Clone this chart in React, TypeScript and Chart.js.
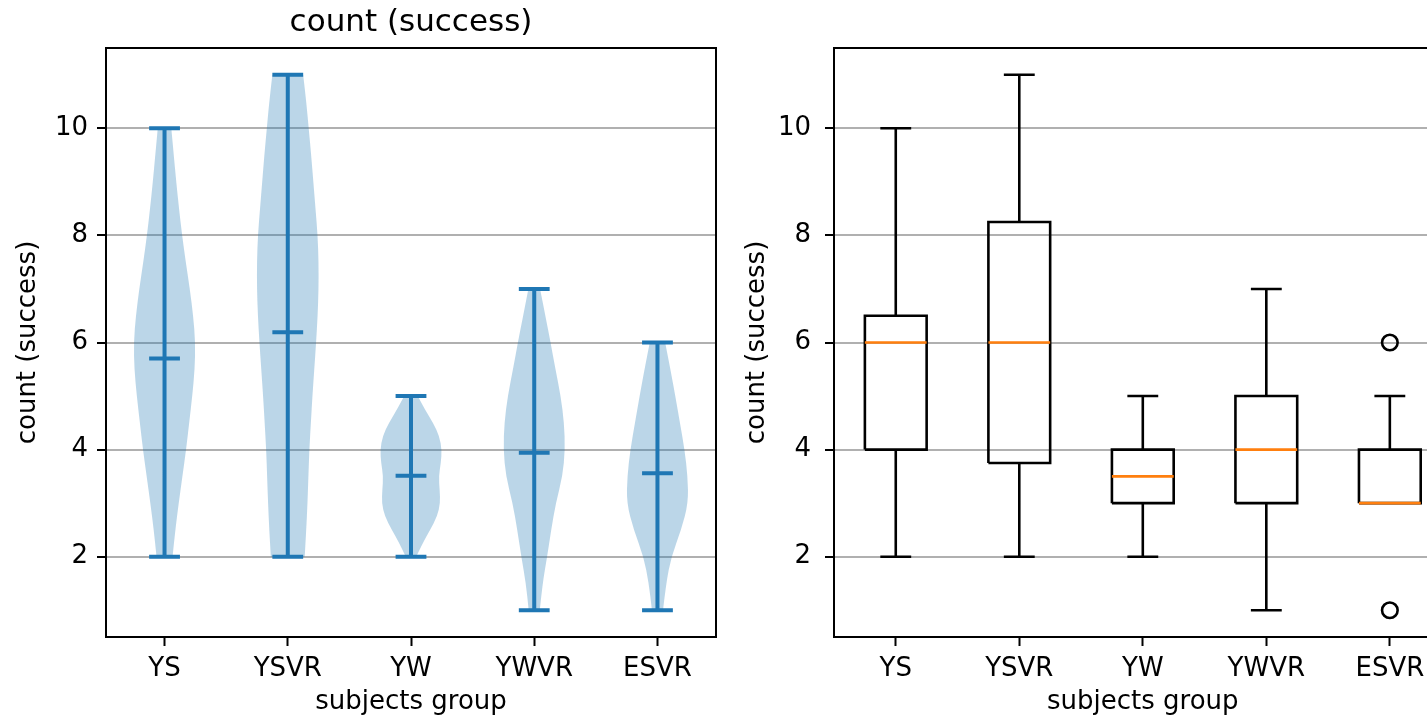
import React, { useEffect, useRef } from 'react';
import { Chart, registerables } from 'chart.js';

Chart.register(...registerables);

// ---------------- data ----------------
const CATEGORIES = ['YS', 'YSVR', 'YW', 'YWVR', 'ESVR'];
const POSITIONS = [1, 2, 3, 4, 5];
const Y_TICKS = [2, 4, 6, 8, 10];
const Y_MIN = 0.5;
const Y_MAX = 11.5;

// violin plot (left): extrema and means
const VIOLIN_MIN = [2, 2, 2, 1, 1];
const VIOLIN_MAX = [10, 11, 5, 7, 6];
const VIOLIN_MEAN = [5.7, 6.19, 3.51, 3.94, 3.56];

// violin density profiles (relative width at each level)
const YS_LEVELS = [2, 2.5, 3, 3.5, 4, 4.5, 5, 5.5, 6, 6.5, 7, 7.5, 8, 8.5, 9, 9.5, 10];
const YS_DENSITY = [0.26, 0.35, 0.46, 0.58, 0.7, 0.8, 0.9, 0.98, 1.0, 0.93, 0.82, 0.69, 0.57, 0.47, 0.38, 0.3, 0.22];
const YSVR_LEVELS = [2, 2.5, 3, 3.5, 4, 4.5, 5, 5.5, 6, 6.5, 7, 7.5, 8, 8.5, 9, 9.5, 10, 10.5, 11];
const YSVR_DENSITY = [0.55, 0.6, 0.64, 0.67, 0.7, 0.75, 0.8, 0.86, 0.92, 0.97, 1.0, 1.0, 0.97, 0.9, 0.83, 0.76, 0.68, 0.6, 0.5];
const YW_LEVELS = [2, 2.25, 2.5, 2.75, 3, 3.25, 3.5, 3.75, 4, 4.25, 4.5, 4.75, 5];
const YW_DENSITY = [0.17, 0.38, 0.62, 0.85, 0.95, 0.93, 0.9, 0.97, 1.0, 0.92, 0.72, 0.45, 0.22];
const YWVR_LEVELS = [1, 1.5, 2, 2.5, 3, 3.5, 4, 4.5, 5, 5.5, 6, 6.5, 7];
const YWVR_DENSITY = [0.18, 0.27, 0.42, 0.55, 0.7, 0.92, 1.0, 0.97, 0.86, 0.69, 0.53, 0.36, 0.19];
const ESVR_LEVELS = [1, 1.5, 2, 2.5, 3, 3.5, 4, 4.5, 5, 5.5, 6];
const ESVR_DENSITY = [0.18, 0.28, 0.45, 0.77, 1.0, 0.98, 0.88, 0.73, 0.58, 0.42, 0.25];

// box plot (right)
const BOX_WHISLO = [2, 2, 2, 1, 3];
const BOX_Q1 = [4, 3.75, 3, 3, 3];
const BOX_MEDIAN = [6, 6, 3.5, 4, 3];
const BOX_Q3 = [6.5, 8.25, 4, 5, 4];
const BOX_WHISHI = [10, 11, 5, 7, 5];
const BOX_FLIERS = [[], [], [], [], [6, 1]];

// ---------------- style ----------------
const FONT = 'DejaVu Sans';
const BLUE = '#1f77b4';
const VIOLIN_FILL = 'rgba(31,119,180,0.3)';
const ORANGE = '#ff7f0e';
const VIOLIN_HALF = 0.25;
const VIOLIN_CAP = 0.125;
const BOX_HALF = 0.25;
const WHISKER_CAP = 0.125;

Chart.defaults.font.family = FONT;
Chart.defaults.color = '#000';

const PROFILES = [
  { levels: YS_LEVELS, density: YS_DENSITY },
  { levels: YSVR_LEVELS, density: YSVR_DENSITY },
  { levels: YW_LEVELS, density: YW_DENSITY },
  { levels: YWVR_LEVELS, density: YWVR_DENSITY },
  { levels: ESVR_LEVELS, density: ESVR_DENSITY },
];

function smoothPath(ctx: CanvasRenderingContext2D, pts: number[][], move: boolean) {
  if (move) ctx.moveTo(pts[0][0], pts[0][1]);
  else ctx.lineTo(pts[0][0], pts[0][1]);
  for (let k = 1; k < pts.length - 1; k++) {
    const mx = (pts[k][0] + pts[k + 1][0]) / 2;
    const my = (pts[k][1] + pts[k + 1][1]) / 2;
    ctx.quadraticCurveTo(pts[k][0], pts[k][1], mx, my);
  }
  const last = pts[pts.length - 1];
  ctx.lineTo(last[0], last[1]);
}

const violinPlugin = {
  id: 'violinBodies',
  beforeDatasetsDraw(chart: any) {
    const { ctx } = chart;
    const xs = chart.scales.x;
    const ys = chart.scales.y;
    ctx.save();
    ctx.fillStyle = VIOLIN_FILL;
    PROFILES.forEach((prof, i) => {
      const pos = POSITIONS[i];
      const right = prof.levels.map((v, k) => [
        xs.getPixelForValue(pos + prof.density[k] * VIOLIN_HALF),
        ys.getPixelForValue(v),
      ]);
      const left = prof.levels
        .map((v, k) => [xs.getPixelForValue(pos - prof.density[k] * VIOLIN_HALF), ys.getPixelForValue(v)])
        .reverse();
      ctx.beginPath();
      smoothPath(ctx, right, true);
      smoothPath(ctx, left, false);
      ctx.closePath();
      ctx.fill();
    });
    ctx.restore();
  },
};

const framePlugin = {
  id: 'frame',
  afterDatasetsDraw(chart: any) {
    const { ctx, chartArea: a } = chart;
    ctx.save();
    ctx.strokeStyle = '#000';
    ctx.lineWidth = 2;
    ctx.strokeRect(a.left, a.top, a.right - a.left, a.bottom - a.top);
    ctx.restore();
  },
};

function violinLinePoints() {
  const pts: any[] = [];
  POSITIONS.forEach((p, i) => {
    pts.push({ x: p, y: VIOLIN_MIN[i] }, { x: p, y: VIOLIN_MAX[i] }, { x: p, y: null });
    [VIOLIN_MIN[i], VIOLIN_MAX[i], VIOLIN_MEAN[i]].forEach((v) => {
      pts.push({ x: p - VIOLIN_CAP, y: v }, { x: p + VIOLIN_CAP, y: v }, { x: p, y: null });
    });
  });
  return pts;
}

function boxLinePoints() {
  const pts: any[] = [];
  POSITIONS.forEach((p, i) => {
    const q1 = BOX_Q1[i];
    const q3 = BOX_Q3[i];
    pts.push(
      { x: p - BOX_HALF, y: q1 }, { x: p + BOX_HALF, y: q1 }, { x: p + BOX_HALF, y: q3 },
      { x: p - BOX_HALF, y: q3 }, { x: p - BOX_HALF, y: q1 }, { x: p, y: null },
      { x: p, y: q1 }, { x: p, y: BOX_WHISLO[i] }, { x: p, y: null },
      { x: p, y: q3 }, { x: p, y: BOX_WHISHI[i] }, { x: p, y: null },
      { x: p - WHISKER_CAP, y: BOX_WHISLO[i] }, { x: p + WHISKER_CAP, y: BOX_WHISLO[i] }, { x: p, y: null },
      { x: p - WHISKER_CAP, y: BOX_WHISHI[i] }, { x: p + WHISKER_CAP, y: BOX_WHISHI[i] }, { x: p, y: null },
    );
  });
  return pts;
}

function medianPoints() {
  const pts: any[] = [];
  POSITIONS.forEach((p, i) => {
    pts.push({ x: p - BOX_HALF, y: BOX_MEDIAN[i] }, { x: p + BOX_HALF, y: BOX_MEDIAN[i] }, { x: p, y: null });
  });
  return pts;
}

function flierPoints() {
  const pts: any[] = [];
  POSITIONS.forEach((p, i) => BOX_FLIERS[i].forEach((v) => pts.push({ x: p, y: v })));
  return pts;
}

const tickFont = { family: FONT, size: 26 };

function yScale(width: number, titlePad: number, tickPad: number) {
  return {
    type: 'linear',
    min: Y_MIN,
    max: Y_MAX,
    afterBuildTicks: (s: any) => {
      s.ticks = Y_TICKS.map((v) => ({ value: v }));
    },
    afterFit: (s: any) => {
      s.width = width;
    },
    ticks: { font: tickFont, color: '#000', padding: tickPad, callback: (v: any) => String(v) },
    grid: {
      display: true,
      color: '#b0b0b0',
      lineWidth: 2,
      drawTicks: true,
      tickLength: 9,
      tickColor: '#000',
      tickWidth: 2,
    },
    border: { display: false },
    title: { display: true, text: 'count (success)', font: tickFont, color: '#000', padding: titlePad },
  };
}

function xScale(min: number, max: number) {
  return {
    type: 'linear',
    min,
    max,
    afterBuildTicks: (s: any) => {
      s.ticks = POSITIONS.map((v) => ({ value: v }));
    },
    afterFit: (s: any) => {
      s.height = 81;
    },
    ticks: {
      font: tickFont,
      color: '#000',
      padding: 8,
      autoSkip: false,
      maxRotation: 0,
      minRotation: 0,
      callback: (v: any) => CATEGORIES[Math.round(v) - 1] ?? '',
    },
    grid: { display: true, drawOnChartArea: false, drawTicks: true, tickLength: 9, tickColor: '#000', tickWidth: 2 },
    border: { display: false },
    title: { display: true, text: 'subjects group', font: tickFont, color: '#000', padding: { top: 0, bottom: 0 } },
  };
}

const common = {
  animation: false,
  responsive: false,
  devicePixelRatio: 1,
  events: [],
};

function leftConfig(): any {
  return {
    type: 'line',
    data: {
      datasets: [
        {
          data: violinLinePoints(),
          borderColor: BLUE,
          borderWidth: 4,
          borderCapStyle: 'butt',
          pointRadius: 0,
          spanGaps: false,
          fill: false,
          tension: 0,
        },
      ],
    },
    options: {
      ...common,
      layout: { padding: { left: 0, right: 6, top: 0, bottom: 0 } },
      plugins: {
        legend: { display: false },
        tooltip: { enabled: false },
        title: {
          display: true,
          text: 'count (success)',
          fullSize: false,
          font: { family: FONT, size: 31, weight: 'normal' },
          color: '#000',
          padding: { top: 4.5, bottom: 6.3 },
        },
      },
      scales: { x: xScale(0.525, 5.475), y: yScale(106, 12.4, 9) },
    },
    plugins: [violinPlugin, framePlugin],
  };
}

function rightConfig(): any {
  return {
    type: 'line',
    data: {
      datasets: [
        {
          data: medianPoints(),
          borderColor: ORANGE,
          borderWidth: 2.6,
          borderCapStyle: 'butt',
          pointRadius: 0,
          spanGaps: false,
          fill: false,
          tension: 0,
          order: 0,
        },
        {
          data: boxLinePoints(),
          borderColor: '#000',
          borderWidth: 2.6,
          borderCapStyle: 'butt',
          borderJoinStyle: 'miter',
          pointRadius: 0,
          spanGaps: false,
          fill: false,
          tension: 0,
          order: 1,
        },
        {
          data: flierPoints(),
          showLine: false,
          pointStyle: 'circle',
          pointRadius: 7.8,
          pointBorderWidth: 2.6,
          pointBorderColor: '#000',
          pointBackgroundColor: 'rgba(0,0,0,0)',
          order: 0,
        },
      ],
    },
    options: {
      ...common,
      layout: { padding: { left: 0, right: 8, top: 48, bottom: 0 } },
      plugins: { legend: { display: false }, tooltip: { enabled: false } },
      scales: { x: xScale(0.5, 5.5), y: yScale(112, 19.9, 14) },
    },
    plugins: [framePlugin],
  };
}

export default function App() {
  const leftRef = useRef<HTMLCanvasElement>(null);
  const rightRef = useRef<HTMLCanvasElement>(null);

  useEffect(() => {
    const c1 = new Chart(leftRef.current as HTMLCanvasElement, leftConfig());
    const c2 = new Chart(rightRef.current as HTMLCanvasElement, rightConfig());
    return () => {
      c1.destroy();
      c2.destroy();
    };
  }, []);

  return (
    <div
      style={{
        position: 'fixed',
        left: 0,
        top: 0,
        width: 1427,
        height: 718,
        overflow: 'hidden',
        background: '#fff',
      }}
    >
      <canvas ref={leftRef} width={722} height={718} style={{ position: 'absolute', left: 0, top: 0 }} />
      <canvas ref={rightRef} width={740} height={718} style={{ position: 'absolute', left: 722, top: 0 }} />
    </div>
  );
}
